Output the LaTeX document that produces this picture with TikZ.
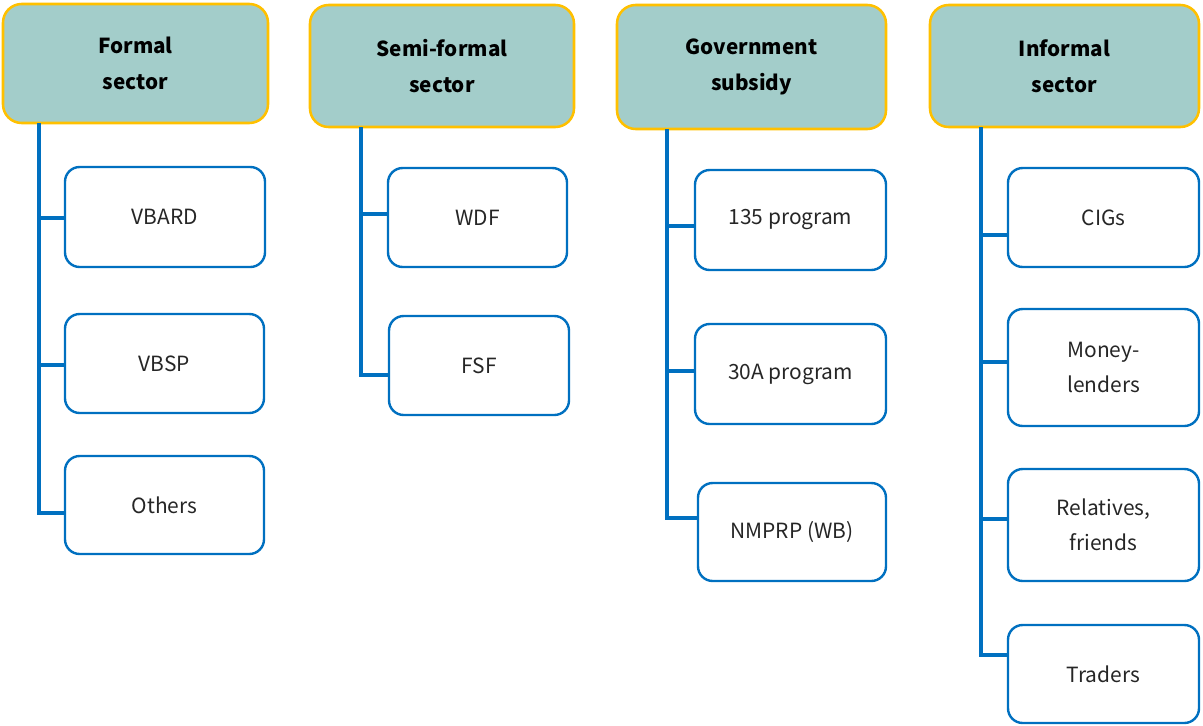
\documentclass[tikz,border=0pt]{standalone}
\usepackage{fontspec}
\setmainfont{Noto Sans CJK JP}
\definecolor{headfill}{HTML}{A3CDCA}
\definecolor{headline}{HTML}{FFC000}
\definecolor{blueline}{HTML}{0070C0}
\tikzset{
  head/.style={draw=headline, fill=headfill, line width=1.9pt, rounded corners=14pt, inner sep=0pt, outer sep=0pt,
    anchor=north west, font=\fontsize{15.5pt}{27pt}\selectfont\bfseries, align=center, text=black},
  item/.style={draw=blueline, fill=white, line width=1.8pt, rounded corners=11pt, inner sep=0pt, outer sep=0pt,
    anchor=north west, font=\fontsize{15.7pt}{26pt}\selectfont, align=center, text=black!85},
  conn/.style={draw=blueline, line width=2.3pt}
}
\begin{document}
\begin{tikzpicture}[x=0.75pt, y=-0.75pt]
\useasboundingbox (0,0) rectangle (1203,725);
% headers
\node[head, minimum width=198.75pt, minimum height=89.25pt] (h1) at (3,4) {Formal\\sector};
\node[head, minimum width=198pt, minimum height=91.5pt] (h2) at (310,5) {Semi-formal\\sector};
\node[head, minimum width=201.75pt, minimum height=93pt] (h3) at (617,5) {Government\\subsidy};
\node[head, minimum width=201.75pt, minimum height=91.5pt] (h4) at (930,5) {Informal\\sector};
% column 1
\node[item, minimum width=150pt, minimum height=75pt] (c11) at (65,167) {VBARD};
\node[item, minimum width=149.25pt, minimum height=74.25pt] (c12) at (65,314) {VBSP};
\node[item, minimum width=149.25pt, minimum height=73.5pt] (c13) at (65,456) {Others};
% column 2
\node[item, minimum width=134.25pt, minimum height=74.25pt] (c21) at (388,168) {WDF};
\node[item, minimum width=135pt, minimum height=74.25pt] (c22) at (389,316) {FSF};
% column 3
\node[item, minimum width=143.25pt, minimum height=75pt] (c31) at (695,170) {135 program};
\node[item, minimum width=143.25pt, minimum height=75pt] (c32) at (695,324) {30A program};
\node[item, minimum width=141pt, minimum height=73.5pt] (c33) at (698,483) {NMPRP (WB)};
% column 4
\node[item, minimum width=143.25pt, minimum height=74.25pt] (c41) at (1008,168) {CIGs};
\node[item, minimum width=143.25pt, minimum height=87.75pt] (c42) at (1008,309) {Money-\\lenders};
\node[item, minimum width=143.25pt, minimum height=84pt] (c43) at (1008,469) {Relatives,\\friends};
\node[item, minimum width=143.25pt, minimum height=73.5pt] (c44) at (1008,625) {Traders};
% connector bends
\coordinate (b11) at (39,218);
\coordinate (b12) at (39,365);
\coordinate (b13) at (39,513);
\coordinate (b21) at (361,214);
\coordinate (b22) at (361,375);
\coordinate (b31) at (667,226);
\coordinate (b32) at (667,371);
\coordinate (b33) at (667,518);
\coordinate (b41) at (981,235);
\coordinate (b42) at (981,362);
\coordinate (b43) at (981,519);
\coordinate (b44) at (981,655);
\draw[conn] (h1.south -| b13) -- (b13) -- (c13.west |- b13);
\draw[conn] (b11) -- (c11.west |- b11);
\draw[conn] (b12) -- (c12.west |- b12);
\draw[conn] (h2.south -| b22) -- (b22) -- (c22.west |- b22);
\draw[conn] (b21) -- (c21.west |- b21);
\draw[conn] (h3.south -| b33) -- (b33) -- (c33.west |- b33);
\draw[conn] (b31) -- (c31.west |- b31);
\draw[conn] (b32) -- (c32.west |- b32);
\draw[conn] (h4.south -| b44) -- (b44) -- (c44.west |- b44);
\draw[conn] (b41) -- (c41.west |- b41);
\draw[conn] (b42) -- (c42.west |- b42);
\draw[conn] (b43) -- (c43.west |- b43);
\end{tikzpicture}
\end{document}
